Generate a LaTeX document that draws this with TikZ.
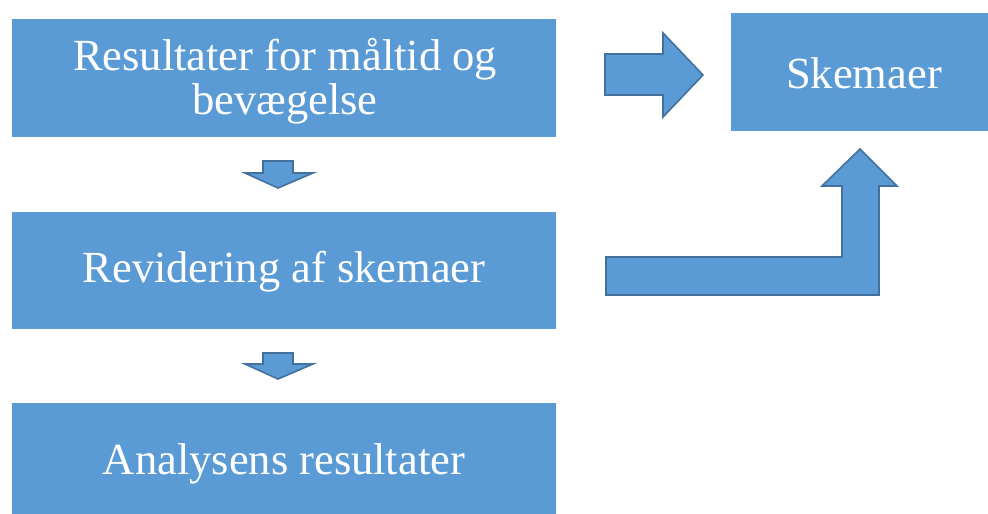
\documentclass[tikz,border=0pt]{standalone}
\usepackage{fontspec}
\setmainfont{Liberation Serif}
\definecolor{boxblue}{HTML}{5B9BD5}
\definecolor{edgeblue}{HTML}{41719C}
\tikzset{
  boxfont/.style={font=\fontsize{44.5}{44}\selectfont},
  stepbox/.style={fill=boxblue, draw=none, inner sep=0pt, text=white,
    boxfont, align=center},
  blockarrow/.style={fill=boxblue, draw=edgeblue, line width=1.6pt, line join=miter}
}
\begin{document}
\begin{tikzpicture}[x=1pt,y=-1pt]
\clip (0,0) rectangle (988,514);
\fill[white] (0,0) rectangle (988,514);
% process boxes
\node[stepbox, minimum width=544pt, minimum height=118pt] (res) at (284,78) {};
\node[text=white, boxfont, align=center] (restext) at (285,81)
  {Resultater for måltid og\\bevægelse};
\node[stepbox, minimum width=544pt, minimum height=117pt] (rev) at (284,270) {};
\node[text=white, boxfont] (revtext) at (284,272) {Revidering af skemaer};
\node[stepbox, minimum width=544pt, minimum height=118pt, anchor=north] (ana) at (284,403) {};
\node[text=white, boxfont] (anatext) at (284,464) {Analysens resultater};
\node[stepbox, minimum width=266pt, minimum height=118pt, anchor=north west] (ske) at (731,13) {};
\node[text=white, boxfont] (sketext) at (864,73) {Skemaer};
% small down arrows between the boxes
\draw[blockarrow] (263,161) -- (293,161) -- (293,173) -- (313,173) -- (278,188)
  -- (245,173) -- (263,173) -- cycle;
\draw[blockarrow] (263,353) -- (293,353) -- (293,364) -- (313,364) -- (278,379)
  -- (245,364) -- (263,364) -- cycle;
% right arrow towards the schemas
\draw[blockarrow] (605,54) -- (663,54) -- (663,33) -- (703,75) -- (663,117)
  -- (663,95) -- (605,95) -- cycle;
% bent arrow from the revision up to the schemas
\draw[blockarrow] (606,257) -- (842,257) -- (842,186) -- (822,186) -- (860,149)
  -- (897,186) -- (879,186) -- (879,295) -- (606,295) -- cycle;
\end{tikzpicture}
\end{document}
